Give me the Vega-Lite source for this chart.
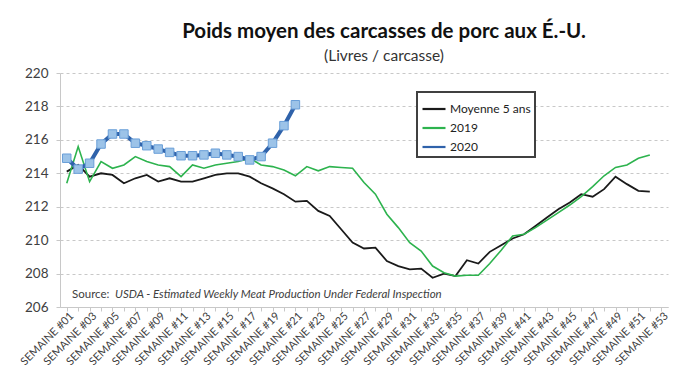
{
  "$schema": "https://vega.github.io/schema/vega-lite/v6.json",
  "autosize": {"type": "none"},
  "width": 608,
  "height": 234,
  "padding": {"left": 60, "top": 73, "right": 29, "bottom": 75},
  "background": "white",
  "config": {
    "font": "Lato",
    "view": {"stroke": null},
    "axis": {"labelFont": "Lato", "labelColor": "#404040", "domainColor": "#c8c8c8", "tickColor": "#c8c8c8"}
  },
  "title": {
    "text": "Poids moyen des carcasses de porc aux É.-U.",
    "subtitle": "(Livres / carcasse)",
    "font": "Lato",
    "fontSize": 20.5,
    "fontWeight": "bold",
    "color": "#111111",
    "subtitleFont": "Lato",
    "subtitleFontSize": 15.5,
    "subtitleColor": "#333333",
    "subtitlePadding": 6,
    "anchor": "middle",
    "dx": 20,
    "offset": 2
  },
  "datasets": {
    "series": [
      {"serie": "Moyenne 5 ans", "semaine": 1, "poids": 214.1},
      {"serie": "Moyenne 5 ans", "semaine": 2, "poids": 214.5},
      {"serie": "Moyenne 5 ans", "semaine": 3, "poids": 213.8},
      {"serie": "Moyenne 5 ans", "semaine": 4, "poids": 214.0},
      {"serie": "Moyenne 5 ans", "semaine": 5, "poids": 213.9},
      {"serie": "Moyenne 5 ans", "semaine": 6, "poids": 213.4},
      {"serie": "Moyenne 5 ans", "semaine": 7, "poids": 213.7},
      {"serie": "Moyenne 5 ans", "semaine": 8, "poids": 213.9},
      {"serie": "Moyenne 5 ans", "semaine": 9, "poids": 213.5},
      {"serie": "Moyenne 5 ans", "semaine": 10, "poids": 213.7},
      {"serie": "Moyenne 5 ans", "semaine": 11, "poids": 213.5},
      {"serie": "Moyenne 5 ans", "semaine": 12, "poids": 213.5},
      {"serie": "Moyenne 5 ans", "semaine": 13, "poids": 213.7},
      {"serie": "Moyenne 5 ans", "semaine": 14, "poids": 213.9},
      {"serie": "Moyenne 5 ans", "semaine": 15, "poids": 214.0},
      {"serie": "Moyenne 5 ans", "semaine": 16, "poids": 214.0},
      {"serie": "Moyenne 5 ans", "semaine": 17, "poids": 213.8},
      {"serie": "Moyenne 5 ans", "semaine": 18, "poids": 213.4},
      {"serie": "Moyenne 5 ans", "semaine": 19, "poids": 213.1},
      {"serie": "Moyenne 5 ans", "semaine": 20, "poids": 212.75},
      {"serie": "Moyenne 5 ans", "semaine": 21, "poids": 212.3},
      {"serie": "Moyenne 5 ans", "semaine": 22, "poids": 212.35},
      {"serie": "Moyenne 5 ans", "semaine": 23, "poids": 211.75},
      {"serie": "Moyenne 5 ans", "semaine": 24, "poids": 211.45},
      {"serie": "Moyenne 5 ans", "semaine": 25, "poids": 210.65},
      {"serie": "Moyenne 5 ans", "semaine": 26, "poids": 209.85},
      {"serie": "Moyenne 5 ans", "semaine": 27, "poids": 209.5},
      {"serie": "Moyenne 5 ans", "semaine": 28, "poids": 209.55},
      {"serie": "Moyenne 5 ans", "semaine": 29, "poids": 208.75},
      {"serie": "Moyenne 5 ans", "semaine": 30, "poids": 208.45},
      {"serie": "Moyenne 5 ans", "semaine": 31, "poids": 208.25},
      {"serie": "Moyenne 5 ans", "semaine": 32, "poids": 208.3},
      {"serie": "Moyenne 5 ans", "semaine": 33, "poids": 207.75},
      {"serie": "Moyenne 5 ans", "semaine": 34, "poids": 208.0},
      {"serie": "Moyenne 5 ans", "semaine": 35, "poids": 207.85},
      {"serie": "Moyenne 5 ans", "semaine": 36, "poids": 208.8},
      {"serie": "Moyenne 5 ans", "semaine": 37, "poids": 208.6},
      {"serie": "Moyenne 5 ans", "semaine": 38, "poids": 209.3},
      {"serie": "Moyenne 5 ans", "semaine": 39, "poids": 209.7},
      {"serie": "Moyenne 5 ans", "semaine": 40, "poids": 210.1},
      {"serie": "Moyenne 5 ans", "semaine": 41, "poids": 210.35},
      {"serie": "Moyenne 5 ans", "semaine": 42, "poids": 210.85},
      {"serie": "Moyenne 5 ans", "semaine": 43, "poids": 211.35},
      {"serie": "Moyenne 5 ans", "semaine": 44, "poids": 211.85},
      {"serie": "Moyenne 5 ans", "semaine": 45, "poids": 212.25},
      {"serie": "Moyenne 5 ans", "semaine": 46, "poids": 212.75},
      {"serie": "Moyenne 5 ans", "semaine": 47, "poids": 212.6},
      {"serie": "Moyenne 5 ans", "semaine": 48, "poids": 213.05},
      {"serie": "Moyenne 5 ans", "semaine": 49, "poids": 213.8},
      {"serie": "Moyenne 5 ans", "semaine": 50, "poids": 213.35},
      {"serie": "Moyenne 5 ans", "semaine": 51, "poids": 212.95},
      {"serie": "Moyenne 5 ans", "semaine": 52, "poids": 212.9},
      {"serie": "2019", "semaine": 1, "poids": 213.4},
      {"serie": "2019", "semaine": 2, "poids": 215.6},
      {"serie": "2019", "semaine": 3, "poids": 213.5},
      {"serie": "2019", "semaine": 4, "poids": 214.7},
      {"serie": "2019", "semaine": 5, "poids": 214.3},
      {"serie": "2019", "semaine": 6, "poids": 214.5},
      {"serie": "2019", "semaine": 7, "poids": 215.0},
      {"serie": "2019", "semaine": 8, "poids": 214.7},
      {"serie": "2019", "semaine": 9, "poids": 214.5},
      {"serie": "2019", "semaine": 10, "poids": 214.4},
      {"serie": "2019", "semaine": 11, "poids": 213.8},
      {"serie": "2019", "semaine": 12, "poids": 214.5},
      {"serie": "2019", "semaine": 13, "poids": 214.3},
      {"serie": "2019", "semaine": 14, "poids": 214.5},
      {"serie": "2019", "semaine": 15, "poids": 214.6},
      {"serie": "2019", "semaine": 16, "poids": 214.7},
      {"serie": "2019", "semaine": 17, "poids": 214.9},
      {"serie": "2019", "semaine": 18, "poids": 214.5},
      {"serie": "2019", "semaine": 19, "poids": 214.4},
      {"serie": "2019", "semaine": 20, "poids": 214.2},
      {"serie": "2019", "semaine": 21, "poids": 213.85},
      {"serie": "2019", "semaine": 22, "poids": 214.4},
      {"serie": "2019", "semaine": 23, "poids": 214.15},
      {"serie": "2019", "semaine": 24, "poids": 214.4},
      {"serie": "2019", "semaine": 25, "poids": 214.35},
      {"serie": "2019", "semaine": 26, "poids": 214.3},
      {"serie": "2019", "semaine": 27, "poids": 213.45},
      {"serie": "2019", "semaine": 28, "poids": 212.75},
      {"serie": "2019", "semaine": 29, "poids": 211.55},
      {"serie": "2019", "semaine": 30, "poids": 210.75},
      {"serie": "2019", "semaine": 31, "poids": 209.85},
      {"serie": "2019", "semaine": 32, "poids": 209.35},
      {"serie": "2019", "semaine": 33, "poids": 208.45},
      {"serie": "2019", "semaine": 34, "poids": 208.05},
      {"serie": "2019", "semaine": 35, "poids": 207.85},
      {"serie": "2019", "semaine": 36, "poids": 207.9},
      {"serie": "2019", "semaine": 37, "poids": 207.9},
      {"serie": "2019", "semaine": 38, "poids": 208.6},
      {"serie": "2019", "semaine": 39, "poids": 209.4},
      {"serie": "2019", "semaine": 40, "poids": 210.25},
      {"serie": "2019", "semaine": 41, "poids": 210.35},
      {"serie": "2019", "semaine": 42, "poids": 210.75},
      {"serie": "2019", "semaine": 43, "poids": 211.2},
      {"serie": "2019", "semaine": 44, "poids": 211.65},
      {"serie": "2019", "semaine": 45, "poids": 212.1},
      {"serie": "2019", "semaine": 46, "poids": 212.6},
      {"serie": "2019", "semaine": 47, "poids": 213.2},
      {"serie": "2019", "semaine": 48, "poids": 213.85},
      {"serie": "2019", "semaine": 49, "poids": 214.35},
      {"serie": "2019", "semaine": 50, "poids": 214.5},
      {"serie": "2019", "semaine": 51, "poids": 214.9},
      {"serie": "2019", "semaine": 52, "poids": 215.1},
      {"serie": "2020", "semaine": 1, "poids": 214.9},
      {"serie": "2020", "semaine": 2, "poids": 214.25},
      {"serie": "2020", "semaine": 3, "poids": 214.6},
      {"serie": "2020", "semaine": 4, "poids": 215.75},
      {"serie": "2020", "semaine": 5, "poids": 216.35},
      {"serie": "2020", "semaine": 6, "poids": 216.35},
      {"serie": "2020", "semaine": 7, "poids": 215.8},
      {"serie": "2020", "semaine": 8, "poids": 215.65},
      {"serie": "2020", "semaine": 9, "poids": 215.45},
      {"serie": "2020", "semaine": 10, "poids": 215.25},
      {"serie": "2020", "semaine": 11, "poids": 215.05},
      {"serie": "2020", "semaine": 12, "poids": 215.05},
      {"serie": "2020", "semaine": 13, "poids": 215.1},
      {"serie": "2020", "semaine": 14, "poids": 215.2},
      {"serie": "2020", "semaine": 15, "poids": 215.1},
      {"serie": "2020", "semaine": 16, "poids": 215.0},
      {"serie": "2020", "semaine": 17, "poids": 214.8},
      {"serie": "2020", "semaine": 18, "poids": 215.0},
      {"serie": "2020", "semaine": 19, "poids": 215.8},
      {"serie": "2020", "semaine": 20, "poids": 216.85},
      {"serie": "2020", "semaine": 21, "poids": 218.1}
    ],
    "source": [
      {"semaine": 1.46, "poids": 206.7}
    ]
  },
  "encoding": {
    "x": {
      "field": "semaine", "type": "quantitative",
      "scale": {"domain": [0.41, 53.59], "nice": false, "zero": false},
      "axis": {
        "title": null,
        "grid": false,
        "tickCount": 53,
        "labelExpr": "datum.value % 2 == 1 ? 'SEMAINE #' + (datum.value < 10 ? '0' : '') + datum.value : ''",
        "labelAngle": -45,
        "labelAlign": "right",
        "labelBaseline": "middle",
        "labelFontSize": 11,
        "labelPadding": 3,
        "labelOffset": 5,
        "labelOverlap": false,
        "labelBound": false,
        "labelFlush": false,
        "tickSize": 4
      }
    },
    "y": {
      "field": "poids", "type": "quantitative",
      "scale": {"domain": [206, 220], "nice": false, "zero": false},
      "axis": {
        "title": null,
        "tickCount": 7,
        "labelOverlap": false,
        "labelFlush": false,
        "labelFontSize": 13.5,
        "labelPadding": 8,
        "tickSize": 4,
        "grid": true,
        "gridDash": [3, 3],
        "gridColor": "#c8c8c8",
        "gridWidth": 1
      }
    }
  },
  "layer": [
    {
      "data": {"name": "series"},
      "transform": [{"filter": "datum.serie != '2020'"}],
      "mark": {"type": "line", "interpolate": "linear"},
      "encoding": {
        "color": {
          "field": "serie", "type": "nominal",
          "scale": {"domain": ["Moyenne 5 ans", "2019", "2020"], "range": ["#1a1a1a", "#2db34e", "#2f62aa"]},
          "legend": {
            "title": null,
            "orient": "none",
            "legendX": 357,
            "legendY": 19,
            "direction": "vertical",
            "symbolType": "stroke",
            "symbolSize": 529,
            "symbolStrokeWidth": 2.2,
            "labelFontSize": 12,
            "labelFont": "Lato",
            "labelColor": "#222222",
            "labelOffset": 3,
            "rowPadding": 0,
            "padding": 4,
            "strokeColor": "#404040",
            "fillColor": "white",
            "encode": {"legend": {"update": {"strokeWidth": {"value": 2}}}}
          }
        },
        "strokeWidth": {
          "field": "serie", "type": "nominal",
          "scale": {"domain": ["Moyenne 5 ans", "2019"], "range": [1.8, 1.6]},
          "legend": null
        },
        "order": {"field": "semaine", "type": "quantitative"}
      }
    },
    {
      "data": {"name": "series"},
      "transform": [{"filter": "datum.serie == '2020'"}],
      "mark": {"type": "line", "interpolate": "linear", "color": "#2f62aa", "strokeWidth": 4},
      "encoding": {
        "order": {"field": "semaine", "type": "quantitative"}
      }
    },
    {
      "data": {"name": "series"},
      "transform": [{"filter": "datum.serie == '2020'"}],
      "mark": {"type": "point", "shape": "square", "filled": true, "size": 72, "fill": "#9cc3e8", "stroke": "#6a9fd8", "strokeWidth": 1, "opacity": 1}
    },
    {
      "data": {"name": "source"},
      "mark": {"type": "text", "text": "Source:", "align": "left", "baseline": "middle", "fontSize": 11.5, "font": "Lato", "color": "#404040"}
    },
    {
      "data": {"name": "source"},
      "mark": {"type": "text", "text": "USDA - Estimated Weekly Meat Production Under Federal Inspection", "align": "left", "baseline": "middle", "fontSize": 11.5, "font": "Lato", "fontStyle": "italic", "color": "#404040", "dx": 43}
    }
  ]
}
